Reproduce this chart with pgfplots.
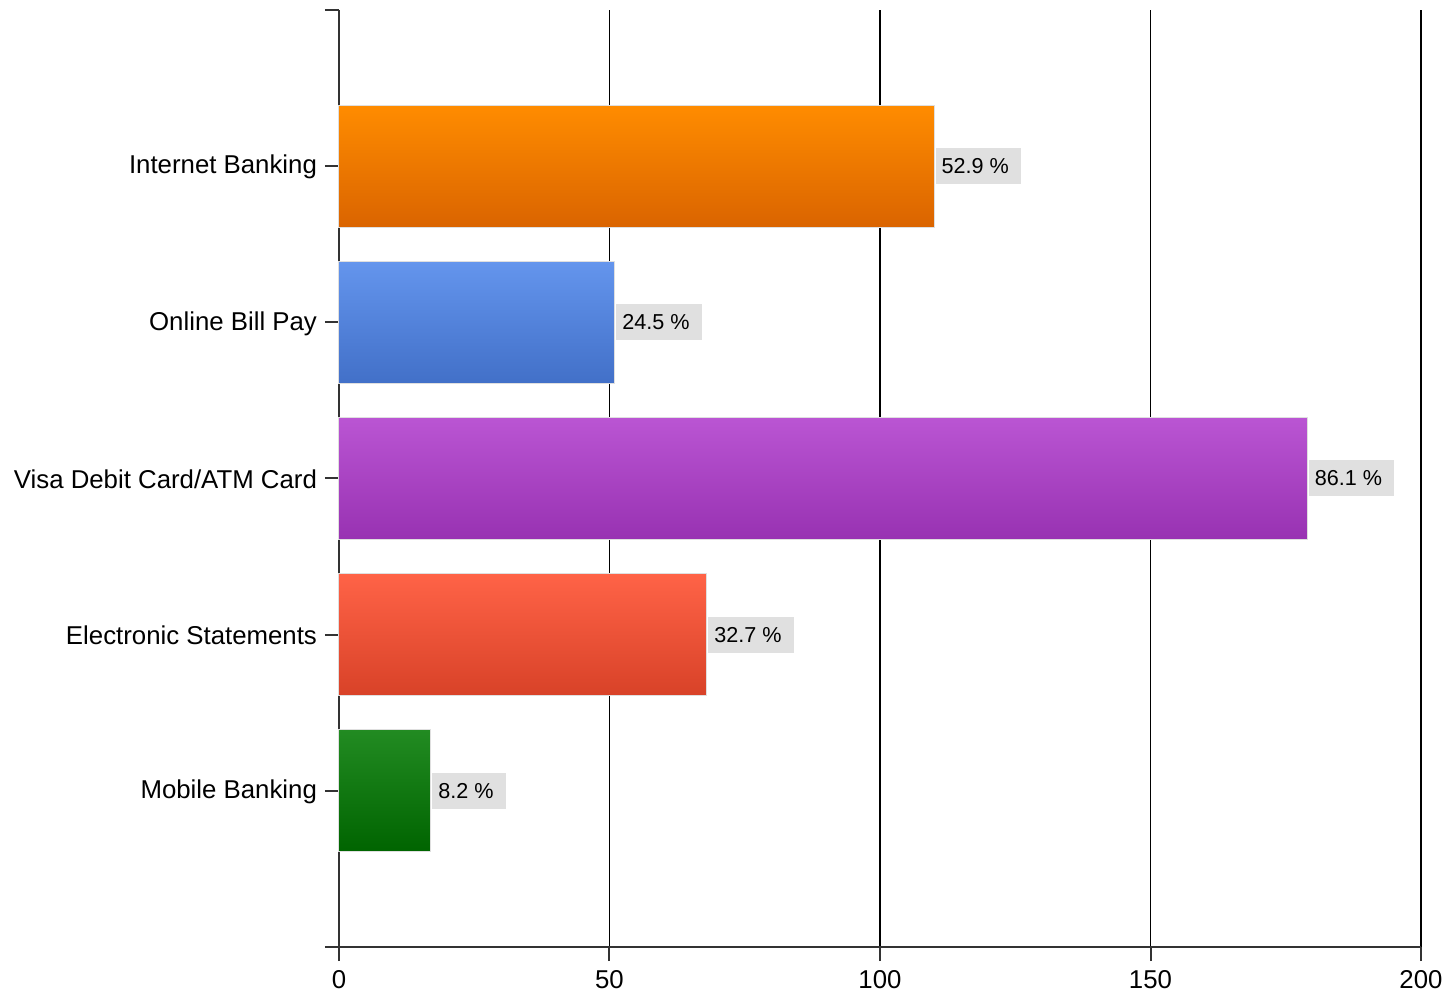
\documentclass[border=0pt]{standalone}
\usepackage{pgfplots}
\pgfplotsset{compat=1.18}
\usepackage{fontspec}
\setmainfont{Liberation Sans}
\definecolor{axisgray}{HTML}{333333}
\definecolor{labbg}{HTML}{E0E0E0}
\begin{document}
\begin{tikzpicture}[x=1pt,y=1pt]
\begin{axis}[
  name=ax,
  scale only axis,
  width=541pt, height=468.5pt,
  xmin=0, xmax=200,
  ymin=-1, ymax=5,
  xtick={0,50,100,150,200},
  ytick={-1,0,1,2,3,4,5},
  yticklabels={,Mobile Banking,Electronic Statements,Visa Debit Card/ATM Card,Online Bill Pay,Internet Banking,},
  axis x line=bottom, axis y line=left,
  axis line style={-, draw=axisgray, line width=1pt},
  tick style={draw=axisgray, line width=1pt},
  tick align=outside,
  major tick length=7pt,
  xmajorgrids,
  major grid style={black, line width=0.9pt},
  ticklabel style={font=\fontsize{12.9}{14}\selectfont, text=black},
  /pgf/number format/assume math mode=true,
  xticklabel style={yshift=-1pt},
  yticklabel style={xshift=-0.5pt, yshift=-0.5pt},
  xbar, bar width=0.78, bar shift=0pt,
  point meta=explicit symbolic,
  nodes near coords={\pgfplotspointmeta\hspace*{3pt}},
  every node near coord/.style={anchor=west, fill=labbg, inner xsep=3pt, inner ysep=0pt, minimum height=18pt, font=\fontsize{10.8}{12}\selectfont, text=black, xshift=0.5pt},
  clip=false,
]
\addplot[draw=gray!25, line width=0.5pt, top color={rgb,255:red,255;green,140;blue,0}, bottom color={rgb,255:red,218;green,100;blue,0}] coordinates {(110,4) [52.9 \%]};
\addplot[draw=gray!25, line width=0.5pt, top color={rgb,255:red,100;green,149;blue,237}, bottom color={rgb,255:red,66;green,112;blue,200}] coordinates {(51,3) [24.5 \%]};
\addplot[draw=gray!25, line width=0.5pt, top color={rgb,255:red,186;green,85;blue,211}, bottom color={rgb,255:red,152;green,50;blue,178}] coordinates {(179,2) [86.1 \%]};
\addplot[draw=gray!25, line width=0.5pt, top color={rgb,255:red,255;green,99;blue,71}, bottom color={rgb,255:red,216;green,66;blue,40}] coordinates {(68,1) [32.7 \%]};
\addplot[draw=gray!25, line width=0.5pt, top color={rgb,255:red,34;green,139;blue,34}, bottom color={rgb,255:red,0;green,100;blue,0}] coordinates {(17,0) [8.2 \%]};
\end{axis}
\path (ax.south west) ++(-169.5pt,-22.5pt) rectangle ++(725pt,496pt);
\end{tikzpicture}
\end{document}
